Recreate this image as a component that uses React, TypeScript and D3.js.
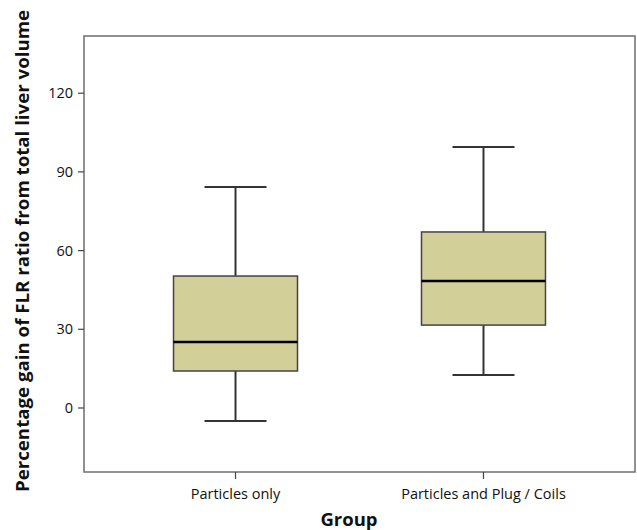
import React from 'react';
import * as d3 from 'd3';

// groups and box statistics
const groups = ['Particles only', 'Particles and Plug / Coils'];
const lowerWhisker = [-5.0, 12.6];
const q1 = [14.1, 31.6];
const median = [25.2, 48.4];
const q3 = [50.3, 67.1];
const upperWhisker = [84.2, 99.5];
const yTicks = [0, 30, 60, 90, 120];

const W = 637;
const H = 530;
const plot = { left: 84, right: 635, top: 36, bottom: 472 };

const App = () => {
  const y = d3.scaleLinear().domain([-24.4, 141.8]).range([plot.bottom, plot.top]);
  const x = d3.scalePoint().domain(groups).range([plot.left, plot.right]).padding(0.611);
  const step = x.step();
  const boxW = step * 0.5;
  const capW = boxW * 0.5;
  const font = '"Open Sans", "DejaVu Sans", sans-serif';

  return (
    <svg width={W} height={H} style={{ position: 'absolute', left: 0, top: 0, background: '#fff' }}>
      <rect x={plot.left} y={plot.top} width={plot.right - plot.left} height={plot.bottom - plot.top}
        fill="#fff" stroke="#6e6e6e" strokeWidth={1.5} />

      {yTicks.map(t => (
        <g key={t}>
          <line x1={plot.left - 6} x2={plot.left} y1={y(t)} y2={y(t)} stroke="#444" strokeWidth={1.2} />
          <text x={plot.left - 11} y={y(t)} dy="0.35em" textAnchor="end" fontFamily={font} fontSize={14.5} fill="#111">{t}</text>
        </g>
      ))}

      {groups.map((g, i) => {
        const cx = x(g) as number;
        return (
          <g key={g}>
            <line x1={cx} x2={cx} y1={plot.bottom} y2={plot.bottom + 7} stroke="#444" strokeWidth={1.2} />
            <text x={cx} y={plot.bottom + 27} textAnchor="middle" fontFamily={font} fontSize={14.5} fill="#111">{g}</text>
            <line x1={cx} x2={cx} y1={y(upperWhisker[i])} y2={y(q3[i])} stroke="#333" strokeWidth={2} />
            <line x1={cx} x2={cx} y1={y(q1[i])} y2={y(lowerWhisker[i])} stroke="#333" strokeWidth={2} />
            <line x1={cx - capW / 2} x2={cx + capW / 2} y1={y(upperWhisker[i])} y2={y(upperWhisker[i])} stroke="#333" strokeWidth={2} />
            <line x1={cx - capW / 2} x2={cx + capW / 2} y1={y(lowerWhisker[i])} y2={y(lowerWhisker[i])} stroke="#333" strokeWidth={2} />
            <rect x={cx - boxW / 2} y={y(q3[i])} width={boxW} height={y(q1[i]) - y(q3[i])}
              fill="#d3cf98" stroke="#444" strokeWidth={1.5} />
            <line x1={cx - boxW / 2} x2={cx + boxW / 2} y1={y(median[i])} y2={y(median[i])} stroke="#000" strokeWidth={2.5} />
          </g>
        );
      })}

      <text transform={`translate(29,${251}) rotate(-90)`} textAnchor="middle" fontFamily={font}
        fontWeight="bold" fontSize={18.5} textLength={482} lengthAdjust="spacingAndGlyphs" fill="#111">Percentage gain of FLR ratio from total liver volume</text>
      <text x={349} y={526} textAnchor="middle" fontFamily={font} fontWeight="bold" fontSize={18.5} fill="#111">Group</text>
    </svg>
  );
};

export default App;
